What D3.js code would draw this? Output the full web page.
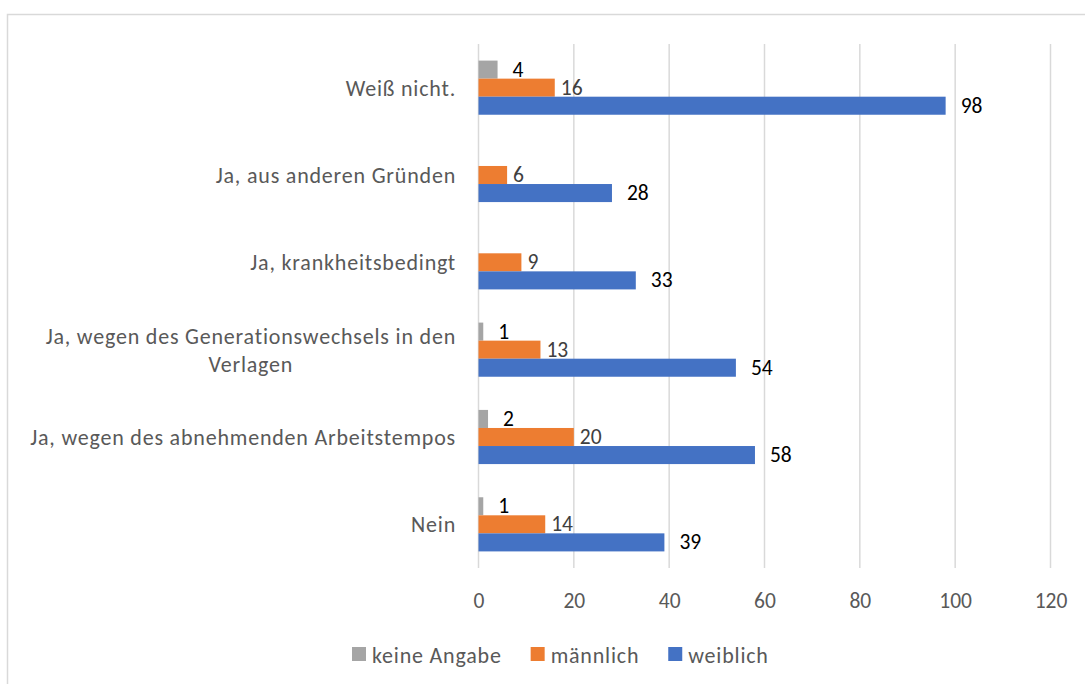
<html><head>
<meta charset="utf-8">
<script src="https://d3js.org/d3.v7.min.js"></script>
<style>
  body { margin: 0; background: white; }
  svg text { font-family: Calibri, Carlito, Lato, sans-serif; }
</style>
</head>
<body>
<div id="chart"></div>
<script>
// data, top to bottom
var categories = ["Weiß nicht.", "Ja, aus anderen Gründen", "Ja, krankheitsbedingt",
  "Ja, wegen des Generationswechsels in den Verlagen", "Ja, wegen des abnehmenden Arbeitstempos", "Nein"];
var series = ["keine Angabe", "männlich", "weiblich"];
var keineAngabe = [4, null, null, 1, 2, 1];
var maennlich = [16, 6, 9, 13, 20, 14];
var weiblich = [98, 28, 33, 54, 58, 39];
var xTicks = [0, 20, 40, 60, 80, 100, 120];
var colors = ["#a5a5a5", "#ed7d31", "#4472c4"];
var labelColors = ["#000000", "#404040", "#000000"];
var labelGap = [15, 6, 15];

var width = 1085, height = 684;
var textSize = 22, numSize = 21.5, spacing = "0.8px";

var svg = d3.select("#chart").append("svg")
  .attr("width", width)
  .attr("height", height);

// chart frame
svg.append("rect")
  .attr("x", 7.5).attr("y", 14.5)
  .attr("width", 1200).attr("height", 800)
  .style("fill", "none")
  .style("stroke", "#d9d9d9")
  .style("stroke-width", 1.5);

var xScale = d3.scaleLinear().domain([0, 120]).range([478.5, 1050.5]);
var yScale = d3.scaleBand().domain(categories).range([44, 568])
  .paddingInner(0.38).paddingOuter(0.19);
var ySub = d3.scaleBand().domain(series).range([0, yScale.bandwidth()]);

// gridlines
svg.append("g").selectAll("line").data(xTicks).enter().append("line")
  .attr("x1", d => xScale(d)).attr("x2", d => xScale(d))
  .attr("y1", 44).attr("y2", 568)
  .style("stroke", "#d9d9d9")
  .style("stroke-width", 1.5);

// x axis tick labels
var xAxis = d3.axisBottom(xScale).tickValues(xTicks).tickSize(0).tickPadding(0);
var gx = svg.append("g").attr("transform", "translate(0,600)").call(xAxis);
gx.select(".domain").remove();
gx.selectAll("text")
  .attr("y", 0)
  .attr("dy", "0.35em")
  .style("font-size", numSize + "px")
  .style("font-family", "Calibri, Carlito, Lato, sans-serif")
  .style("fill", "#595959");

// category labels (wrapped one by hand when too long)
categories.forEach(function(c) {
  var lines = c.length > 42 ? ["Ja, wegen des Generationswechsels in den", "Verlagen"] : [c];
  var cy = yScale(c) + yScale.bandwidth() / 2;
  var t = svg.append("text")
    .attr("y", cy - (lines.length - 1) * 14)
    .style("font-size", textSize + "px")
    .style("letter-spacing", spacing)
    .style("fill", "#595959")
    .attr("dominant-baseline", "central");
  lines.forEach(function(l, i) {
    t.append("tspan").attr("x", 456).attr("dy", i == 0 ? 0 : 28).text(l);
  });
  if (lines.length > 1) {
    // center the lines on each other, right edge at 456
    var w = t.node().getBBox().width;
    t.selectAll("tspan").attr("x", 456 - w / 2).attr("text-anchor", "middle");
  } else {
    t.attr("text-anchor", "end");
  }
});

// bars
var allValues = [keineAngabe, maennlich, weiblich];
allValues.forEach(function(vals, s) {
  var g = svg.append("g");
  vals.forEach(function(v, i) {
    if (v == null) return;
    var y = yScale(categories[i]) + ySub(series[s]);
    g.append("rect")
      .attr("x", xScale(0))
      .attr("y", y)
      .attr("width", xScale(v) - xScale(0))
      .attr("height", ySub.bandwidth())
      .style("fill", colors[s]);
    g.append("text")
      .attr("x", xScale(v) + labelGap[s])
      .attr("y", y + ySub.bandwidth() / 2)
      .attr("dominant-baseline", "central")
      .style("font-size", numSize + "px")
      .style("fill", labelColors[s])
      .text(v);
  });
});

// legend
var lx = 352;
series.forEach(function(s, i) {
  svg.append("rect")
    .attr("x", lx).attr("y", 647)
    .attr("width", 14).attr("height", 14)
    .style("fill", colors[i]);
  var t = svg.append("text")
    .attr("x", lx + 20).attr("y", 655)
    .attr("dominant-baseline", "central")
    .style("font-size", textSize + "px")
    .style("letter-spacing", spacing)
    .style("fill", "#595959")
    .text(s);
  lx += 20 + t.node().getComputedTextLength() + 29;
});
</script>
</body></html>
